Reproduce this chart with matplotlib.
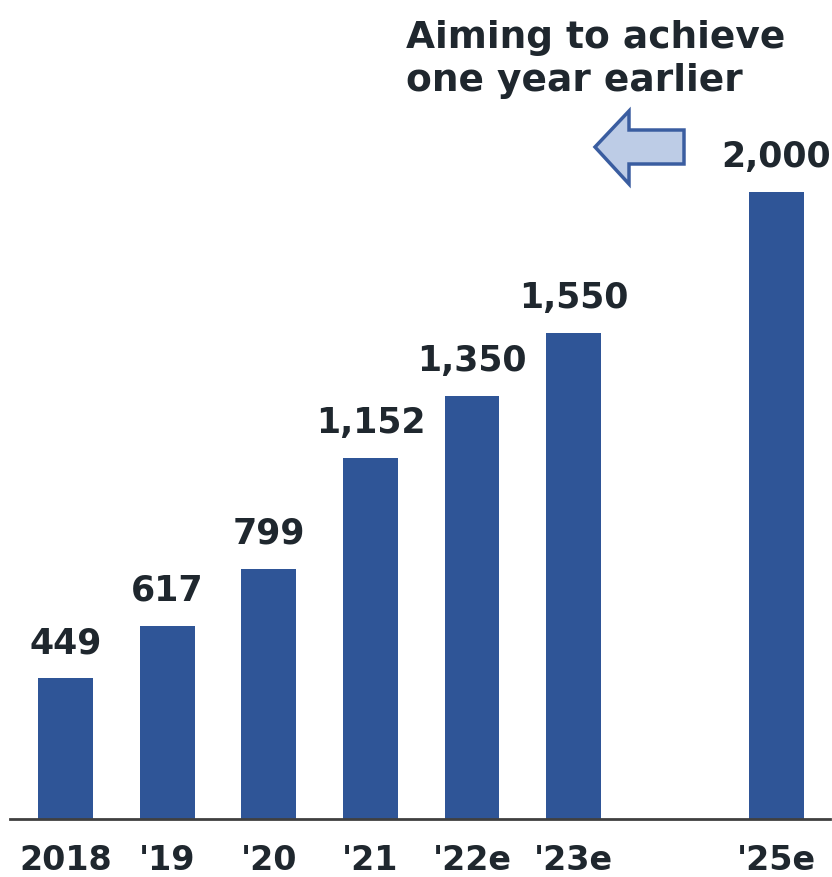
import matplotlib.pyplot as plt
from matplotlib.patches import Polygon

# --- Data ---
years = ["2018", "'19", "'20", "'21", "'22e", "'23e", "'25e"]
positions = [0, 1, 2, 3, 4, 5, 7]
values = [449, 617, 799, 1152, 1350, 1550, 2000]
headline = ["Aiming to achieve", "one year earlier"]

BAR_COLOR = "#2F5597"
TEXT_COLOR = "#1F272E"

fig = plt.figure(figsize=(8.32, 8.78), dpi=100)
ax = fig.add_axes([0.012, 0.066, 0.986, 0.934])

ax.bar(positions, values, width=0.54, color=BAR_COLOR, zorder=2)

# value labels
for x, v in zip(positions, values):
    ax.text(x, v + 60, f"{v:,}", ha="center", va="bottom",
            fontsize=25, fontweight="bold", color=TEXT_COLOR,
            family="DejaVu Sans")

ax.set_xlim(-0.55, 7.53)
ax.set_ylim(0, 2616)

# axes cosmetics
for s in ("top", "right", "left"):
    ax.spines[s].set_visible(False)
ax.spines["bottom"].set_color("#404040")
ax.spines["bottom"].set_linewidth(2)
ax.set_yticks([])
ax.set_xticks(positions)
ax.set_xticklabels(years, fontsize=24, fontweight="bold", color=TEXT_COLOR,
                   family=["Liberation Sans Narrow", "DejaVu Sans"])
ax.tick_params(axis="x", length=0, pad=17)

# headline, two lines
for line, base in zip(headline, (48, 91)):
    fig.text(406 / 832, 1 - base / 878, line, ha="left", va="baseline",
             fontsize=27, fontweight="bold", color=TEXT_COLOR,
             family="DejaVu Sans")

# left-pointing arrow (figure pixels -> fractions)
W, H = 832, 878
pts = [(595, 148), (629, 112), (629, 131), (684, 131),
       (684, 165), (629, 165), (629, 185)]
arrow = Polygon([(px / W, 1 - py / H) for px, py in pts], closed=True,
                transform=fig.transFigure, facecolor="#BDCCE6",
                edgecolor="#3A5DA0", linewidth=2.5, joinstyle="miter")
fig.patches.append(arrow)

plt.savefig("out.png", dpi=100)
plt.close()
